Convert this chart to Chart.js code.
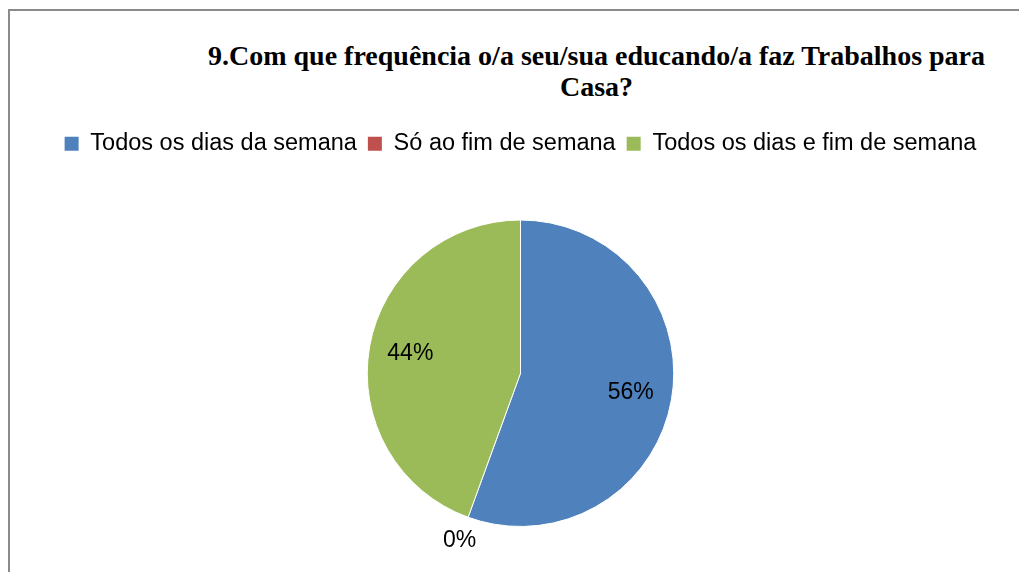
<!DOCTYPE html>
<html>
<head>
<meta charset="utf-8">
<script src="https://cdn.jsdelivr.net/npm/chart.js@4.4.0/dist/chart.umd.min.js"></script>
<style>
  html, body { margin: 0; padding: 0; background: #fff; overflow: hidden; width: 1019px; height: 572px; }
  #frame { position: absolute; left: 8px; top: 9px; width: 1009px; height: 563px; border-left: 2px solid #8a8a8a; border-top: 2px solid #8a8a8a; }
  #title { position: absolute; left: 196px; top: 40px; width: 801px; text-align: center; font-family: "Liberation Serif", "Times New Roman", serif; font-weight: bold; font-size: 28px; line-height: 31px; color: #000; }
  #wrap { position: absolute; left: 0; top: 0; width: 1019px; height: 572px; }
</style>
</head>
<body>
<div id="frame"></div>
<div id="title">9.Com que frequência o/a seu/sua educando/a faz Trabalhos para<br>Casa?</div>
<div id="wrap"><canvas id="pieChart"></canvas></div>
<script>
const categories = ['Todos os dias da semana', 'Só ao fim de semana', 'Todos os dias e fim de semana'];
const answers = [5, 0, 4];
const colours = ['#4F81BD', '#C0504D', '#9BBB59'];

// extra room between legend and pie
const legendGap = {
  id: 'legendGap',
  beforeInit(chart) {
    const fit = chart.legend.fit;
    chart.legend.fit = function () {
      fit.bind(chart.legend)();
      this.height += 54;
    };
  }
};

// percentage labels like the spreadsheet
const pctLabels = {
  id: 'pctLabels',
  afterDatasetsDraw(chart) {
    const ctx = chart.ctx;
    const meta = chart.getDatasetMeta(0);
    const total = answers.reduce((a, b) => a + b, 0);
    ctx.save();
    ctx.font = '23px "Liberation Sans", Arial, sans-serif';
    ctx.fillStyle = '#000';
    ctx.textAlign = 'center';
    ctx.textBaseline = 'middle';
    meta.data.forEach((arc, i) => {
      const mid = (arc.startAngle + arc.endAngle) / 2;
      const d = answers[i] === 0 ? arc.outerRadius + 25 : arc.outerRadius * 0.73;
      const x = arc.x + Math.cos(mid) * d;
      const y = arc.y + Math.sin(mid) * d;
      ctx.fillText(Math.round(answers[i] / total * 100) + '%', x, y);
    });
    ctx.restore();
  }
};

const ctx = document.getElementById('pieChart').getContext('2d');
const baseLabels = Chart.overrides.pie.plugins.legend.labels.generateLabels;

const pieChart = new Chart(ctx, {
  type: 'pie',
  data: {
    labels: categories,
    datasets: [{
      data: answers,
      backgroundColor: colours,
      borderColor: '#ffffff',
      borderWidth: 1
    }]
  },
  options: {
    responsive: true,
    maintainAspectRatio: false,
    animation: false,
    layout: { padding: { top: 121, left: 22, right: 0, bottom: 45 } },
    plugins: {
      tooltip: { enabled: false },
      legend: {
        position: 'top',
        labels: {
          boxWidth: 14,
          boxHeight: 14,
          padding: 11,
          color: '#000',
          font: { family: '"Liberation Sans", Arial, sans-serif', size: 23.5 },
          generateLabels(chart) {
            return baseLabels(chart).map(l => Object.assign(l, { lineWidth: 0 }));
          }
        }
      }
    }
  },
  plugins: [legendGap, pctLabels]
});
</script>
</body>
</html>
